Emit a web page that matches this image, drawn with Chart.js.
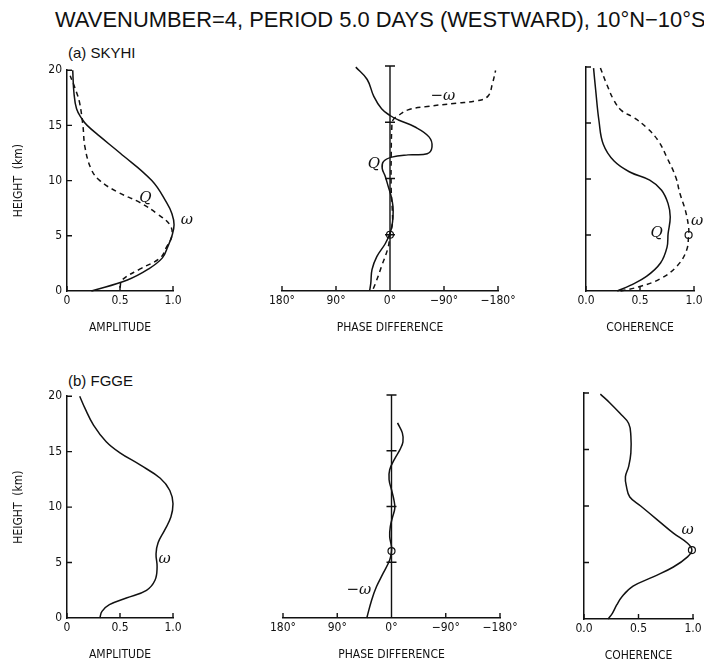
<!DOCTYPE html>
<html>
<head>
<meta charset="utf-8">
<script src="https://cdn.jsdelivr.net/npm/chart.js@4.4.0/dist/chart.umd.min.js"></script>
<style>
  body { margin: 0; background: #fff; width: 704px; height: 661px; overflow: hidden; position: relative; }
  canvas { position: absolute; }
  .txt { position: absolute; color: #111; white-space: nowrap; font-family: "Liberation Sans", Arial, sans-serif; }
</style>
</head>
<body>
<div class="txt" id="title" style="left:55px; top:7px; font-size:19.5px;">WAVENUMBER=4, PERIOD 5.0 DAYS (WESTWARD), 10°N−10°S</div>
<div class="txt" style="left:68px; top:44px; font-size:15px;">(a) SKYHI</div>
<div class="txt" style="left:68px; top:372px; font-size:15px;">(b) FGGE</div>
<canvas id="ampA"></canvas>
<canvas id="phaseA"></canvas>
<canvas id="cohA"></canvas>
<canvas id="ampB"></canvas>
<canvas id="phaseB"></canvas>
<canvas id="cohB"></canvas>
<script>
// ---- data ----
const heightTicks = [0, 5, 10, 15, 20];
const heightTickLabels = ["0", "5", "10", "15", "20"];
const ampTicks = [0, 0.5, 1];
const ampTickLabels = ["0", "0.5", "1.0"];
const cohTickLabels = ["0.0", "0.5", "1.0"];
const phaseTicks = [180, 90, 0, -90, -180];
const phaseTickLabels = ["180°", "90°", "0°", "−90°", "−180°"];

// (a) SKYHI
const skyAmpOmegaH = [0, 1, 2, 3, 4, 5, 6, 7, 8, 10, 12.5, 14, 15, 15.6, 16.5, 18, 20];
const skyAmpOmega  = [0.23, 0.57, 0.77, 0.9, 0.95, 0.99, 1.01, 0.99, 0.94, 0.8, 0.5, 0.31, 0.19, 0.14, 0.09, 0.065, 0.054];
const skyAmpQH = [0.3, 1, 2, 3, 4, 5, 6, 7, 8, 9, 10, 11, 13, 15, 17, 18, 19.5];
const skyAmpQ  = [0.5, 0.52, 0.69, 0.88, 0.94, 0.99, 0.97, 0.85, 0.69, 0.47, 0.31, 0.23, 0.17, 0.15, 0.12, 0.09, 0.03];

const skyPhaseQH = [0, 0.7, 1.9, 3.05, 4.2, 5.0, 5.7, 6.6, 7.5, 8.4, 9.3, 10.2, 10.9, 11.5, 11.9, 12.1, 12.2, 12.8, 13.7, 14.6, 15.2, 15.6, 16.2, 17.3, 18.8, 19.9];
const skyPhaseQ  = [34, 32, 30, 22, 8, 1, -3, -5, -5, -2, 3, 8, 13, 11, -3, -30, -62, -70, -65, -41, -14, 0, 14, 27, 38, 57];
const skyPhaseWH = [0.2, 0.7, 2.2, 3.9, 5.0, 6.0, 7.0, 9, 12, 14.5, 15.2, 15.6, 16.1, 16.4, 16.7, 16.9, 17.3, 18.5, 19.6];
const skyPhaseW  = [28, 24, 14, 3, 0, -4, -4, -2, -2, -3, -5, -14, -30, -62, -111, -144, -163, -171, -176];

const skyCohQH = [0, 0.5, 1.3, 2.5, 3.9, 5.1, 6.6, 7.8, 9.0, 9.9, 10.6, 11.6, 13.1, 15.2, 17.9, 19.9];
const skyCohQ  = [0.29, 0.41, 0.56, 0.69, 0.75, 0.76, 0.78, 0.76, 0.7, 0.59, 0.41, 0.26, 0.16, 0.12, 0.09, 0.07];
const skyCohWH = [0, 0.4, 1.1, 2.2, 3.6, 5.0, 5.7, 7.2, 8.7, 10.2, 11.9, 13.4, 14.6, 15.5, 16.1, 17.0, 18.5, 20];
const skyCohW  = [0.32, 0.5, 0.69, 0.84, 0.93, 0.95, 0.95, 0.92, 0.87, 0.83, 0.75, 0.67, 0.56, 0.44, 0.33, 0.26, 0.19, 0.13];

// (b) FGGE
const fggeAmpH = [0, 0.6, 1.2, 1.8, 2.5, 3.4, 4.6, 5.8, 6.8, 7.9, 9.1, 10.3, 11.5, 12.6, 13.8, 14.9, 15.9, 17.4, 18.9, 20];
const fggeAmp  = [0.31, 0.33, 0.4, 0.56, 0.75, 0.83, 0.85, 0.84, 0.86, 0.92, 0.98, 1.0, 0.97, 0.88, 0.69, 0.5, 0.37, 0.25, 0.17, 0.12];

const fggePhaseH = [0, 1.6, 2.8, 4.0, 5.2, 6.0, 6.4, 7.3, 8.2, 9.1, 9.85, 10.6, 11.5, 12.4, 13.3, 14.3, 15.1, 15.8, 16.6, 17.5];
const fggePhase  = [41, 33, 25, 14, 3, 0, 0, 3, 2, -2, -5.5, -4, 0, 4, 3, -5.5, -14, -19, -18, -10];

const fggeCohH = [0, 0.5, 1.24, 2.0, 2.9, 3.75, 4.6, 5.5, 6.1, 6.7, 7.6, 8.8, 10.0, 10.8, 11.7, 12.6, 13.5, 14.7, 16.2, 17.3, 18.2, 19.1, 19.9];
const fggeCoh  = [0.22, 0.26, 0.3, 0.35, 0.45, 0.64, 0.82, 0.95, 0.99, 0.95, 0.82, 0.67, 0.52, 0.42, 0.39, 0.38, 0.41, 0.43, 0.43, 0.41, 0.33, 0.24, 0.15];

// marked points (small circles)
const skyPhaseMark = [0, 5];
const skyCohMark = [0.95, 5.0];
const fggePhaseMark = [0, 6];
const fggeCohMark = [0.99, 6.1];

// ---- helpers ----
function pts(xs, hs) { return xs.map((v, i) => ({ x: v, y: hs[i] })); }

const FONT = '"Liberation Sans Narrow", "DejaVu Sans Condensed", "Liberation Sans", Arial, sans-serif';
const INK = "#111";

// inward tick marks + 0° reference line + curve labels
const decor = {
  id: "decor",
  afterDraw(chart, args, o) {
    const ctx = chart.ctx, xs = chart.scales.x, ys = chart.scales.y;
    ctx.save();
    ctx.strokeStyle = INK;
    ctx.lineWidth = 1.4;
    ctx.beginPath();
    (o.xTicks || []).forEach(v => {
      const px = xs.getPixelForValue(v);
      ctx.moveTo(px, ys.bottom); ctx.lineTo(px, ys.bottom - 5);
    });
    if (o.zeroLine) {
      const px = xs.getPixelForValue(0);
      ctx.moveTo(px, ys.getPixelForValue(0)); ctx.lineTo(px, ys.getPixelForValue(20));
      (o.yTicks || []).forEach(v => {
        const py = ys.getPixelForValue(v);
        ctx.moveTo(px - 5, py); ctx.lineTo(px + 5, py);
      });
    } else {
      (o.yTicks || []).forEach(v => {
        const py = ys.getPixelForValue(v);
        ctx.moveTo(xs.left, py); ctx.lineTo(xs.left + 5, py);
      });
    }
    ctx.stroke();
    ctx.fillStyle = INK;
    ctx.textAlign = "center";
    ctx.textBaseline = "middle";
    (o.labels || []).forEach(l => {
      ctx.font = "italic 15px 'DejaVu Serif', 'Liberation Serif', serif";
      ctx.fillText(l.text, xs.getPixelForValue(l.x), ys.getPixelForValue(l.y));
    });
    ctx.restore();
  }
};

function lineSet(data, dashed) {
  return {
    data: data, showLine: true, borderColor: INK, borderWidth: 1.5,
    borderDash: dashed ? [5, 4] : [], pointRadius: 0, tension: 0.4, fill: false, clip: false
  };
}
function markSet(p) {
  return {
    data: [{ x: p[0], y: p[1] }], showLine: false, pointRadius: 3.5, clip: false,
    pointBackgroundColor: "#fff", pointBorderColor: INK, pointBorderWidth: 1.2
  };
}

// area = chart area in page pixels
function panel(id, area, kind, datasets, labels, xTitle, showYLabels) {
  const yW = kind === "phase" ? 0 : 67;
  const padL = kind === "phase" ? 12 : 0;
  const padT = 10, padR = 24, xH = 46;
  const cv = document.getElementById(id);
  const left = kind === "phase" ? area.left - padL : area.left - yW;
  const w = area.right - left + padR;
  const h = area.bottom - area.top + padT + xH + 2;
  cv.width = w; cv.height = h;
  cv.style.left = left + "px";
  cv.style.top = (area.top - padT) + "px";

  const isPhase = kind === "phase";
  const xTicks = isPhase ? phaseTicks : ampTicks;
  const xLabels = isPhase ? phaseTickLabels : (kind === "coh" ? cohTickLabels : ampTickLabels);

  new Chart(cv, {
    type: "scatter",
    data: { datasets: datasets },
    options: {
      responsive: false, animation: false,
      layout: { padding: { left: kind === "phase" ? padL : 0, right: padR, top: padT, bottom: 2 } },
      plugins: {
        legend: { display: false }, tooltip: { enabled: false },
        decor: { xTicks: xTicks, yTicks: [5, 10, 15, 20], zeroLine: isPhase, labels: labels }
      },
      scales: {
        x: {
          type: "linear",
          min: isPhase ? -180 : 0, max: isPhase ? 180 : 1, reverse: isPhase,
          afterBuildTicks: s => { s.ticks = xTicks.map(v => ({ value: v })); },
          afterFit: s => { s.height = xH; },
          grid: { display: false, drawTicks: false },
          border: { display: true, color: INK, width: 1.5 },
          ticks: {
            color: INK, padding: 3, maxRotation: 0, autoSkip: false,
            font: { family: FONT, size: 12 },
            callback: (v) => xLabels[xTicks.indexOf(v)]
          },
          title: { display: true, text: xTitle, color: INK, font: { family: FONT, size: 12 }, padding: { top: 0, bottom: 2 } }
        },
        y: {
          type: "linear", display: !isPhase, min: 0, max: 20,
          afterBuildTicks: s => { s.ticks = heightTicks.map(v => ({ value: v })); },
          afterFit: s => { s.width = yW; },
          grid: { display: false, drawTicks: false },
          border: { display: true, color: INK, width: 1.5 },
          ticks: {
            display: showYLabels, color: INK, padding: 5,
            font: { family: FONT, size: 12 },
            callback: (v) => heightTickLabels[heightTicks.indexOf(v)]
          },
          title: { display: showYLabels, text: "HEIGHT  (km)", color: INK, font: { family: FONT, size: 12 }, padding: { top: 12, bottom: 0 } }
        }
      }
    },
    plugins: [decor]
  });
}

panel("ampA", { left: 67, right: 173, top: 68, bottom: 291 }, "amp",
  [lineSet(pts(skyAmpOmega, skyAmpOmegaH), false), lineSet(pts(skyAmpQ, skyAmpQH), true)],
  [{ text: "Q", x: 0.74, y: 8.4 }, { text: "ω", x: 1.13, y: 6.4 }], "AMPLITUDE", true);

panel("phaseA", { left: 278, right: 498, top: 66, bottom: 291 }, "phase",
  [lineSet(pts(skyPhaseQ, skyPhaseQH), false), lineSet(pts(skyPhaseW, skyPhaseWH), true), markSet(skyPhaseMark)],
  [{ text: "Q", x: 27, y: 11.3 }, { text: "−ω", x: -88, y: 17.3 }], "PHASE DIFFERENCE", false);

panel("cohA", { left: 586, right: 694, top: 67, bottom: 291 }, "coh",
  [lineSet(pts(skyCohQ, skyCohQH), false), lineSet(pts(skyCohW, skyCohWH), true), markSet(skyCohMark)],
  [{ text: "Q", x: 0.655, y: 5.2 }, { text: "ω", x: 1.03, y: 6.2 }], "COHERENCE", false);

panel("ampB", { left: 67, right: 173, top: 394, bottom: 618 }, "amp",
  [lineSet(pts(fggeAmp, fggeAmpH), false)],
  [{ text: "ω", x: 0.92, y: 5.3 }], "AMPLITUDE", true);

panel("phaseB", { left: 279, right: 500, top: 395, bottom: 618 }, "phase",
  [lineSet(pts(fggePhase, fggePhaseH), false), markSet(fggePhaseMark)],
  [{ text: "−ω", x: 54, y: 2.5 }], "PHASE DIFFERENCE", false);

panel("cohB", { left: 584, right: 693, top: 393, bottom: 619 }, "coh",
  [lineSet(pts(fggeCoh, fggeCohH), false), markSet(fggeCohMark)],
  [{ text: "ω", x: 0.95, y: 7.9 }], "COHERENCE", false);

// stretch title so it spans the same width as in the figure
const t = document.getElementById("title");
const tw = t.getBoundingClientRect().width;
t.style.fontSize = (19.5 * 651 / tw).toFixed(2) + "px";
</script>
</body>
</html>
